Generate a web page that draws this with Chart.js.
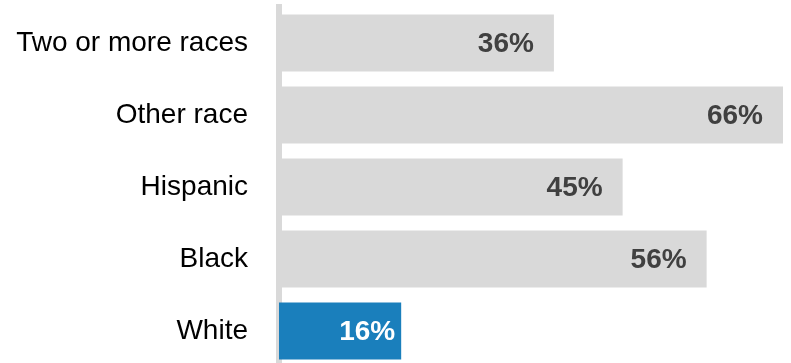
<!DOCTYPE html>
<html>
<head>
<meta charset="utf-8">
<script src="https://cdn.jsdelivr.net/npm/chart.js@4/dist/chart.umd.min.js"></script>
<style>
  html, body { margin: 0; padding: 0; background: #ffffff; overflow: hidden; }
  canvas { display: block; }
</style>
</head>
<body>
<canvas id="c" width="791" height="368" style="width:791px;height:368px"></canvas>
<script>
const categories = ["Two or more races", "Other race", "Hispanic", "Black", "White"];
const values = [36, 66, 45, 56, 16];
const valueLabels = ["36%", "66%", "45%", "56%", "16%"];
const highlightCategory = "White";

const GREY = "#d9d9d9";
const BLUE = "#1a7fbc";
const FONT = "'Liberation Sans', Arial, sans-serif";

const barColors = categories.map(c => c === highlightCategory ? BLUE : GREY);

const valueLabelPlugin = {
  id: "valueLabels",
  afterDatasetsDraw(chart) {
    const ctx = chart.ctx;
    const meta = chart.getDatasetMeta(0);
    ctx.save();
    ctx.font = "bold 28px " + FONT;
    ctx.textAlign = "right";
    ctx.textBaseline = "middle";
    meta.data.forEach((bar, i) => {
      const hi = categories[i] === highlightCategory;
      ctx.fillStyle = hi ? "#ffffff" : "#404040";
      const inset = hi ? 6 : 20;
      ctx.fillText(valueLabels[i], bar.x - inset, bar.y + 1);
    });
    ctx.restore();
  }
};

new Chart(document.getElementById("c"), {
  type: "bar",
  data: {
    labels: categories,
    datasets: [{
      data: values,
      backgroundColor: barColors,
      borderWidth: 0,
      barPercentage: 0.79,
      categoryPercentage: 1.0
    }]
  },
  options: {
    indexAxis: "y",
    responsive: false,
    devicePixelRatio: 1,
    animation: false,
    layout: { padding: { left: 0, right: 8, top: 7, bottom: 1 } },
    plugins: {
      legend: { display: false },
      tooltip: { enabled: false }
    },
    scales: {
      x: {
        display: false,
        min: 0,
        max: 66
      },
      y: {
        z: 1,
        afterFit(scale) {
          scale.width = 279;
          scale.paddingTop = 0;
          scale.paddingBottom = 0;
        },
        grid: { display: false, drawTicks: false },
        border: { display: true, color: GREY, width: 6 },
        ticks: {
          color: "#000000",
          font: { family: FONT, size: 28 },
          padding: 31
        }
      }
    }
  },
  plugins: [valueLabelPlugin]
});
</script>
</body>
</html>
